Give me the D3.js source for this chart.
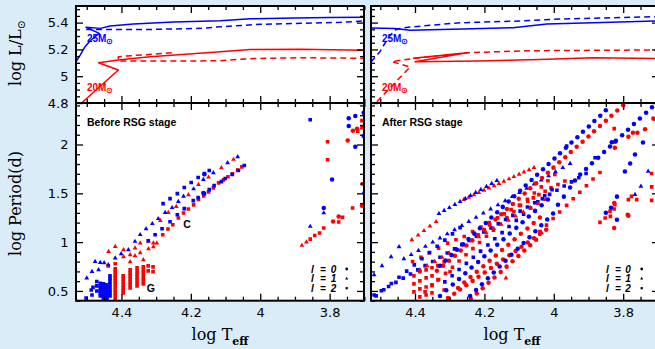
<!DOCTYPE html>
<html>
<head>
<meta charset="utf-8">
<script src="https://cdn.jsdelivr.net/npm/d3@7/dist/d3.min.js"></script>
<style>
html,body{margin:0;padding:0;background:#d9ecf7;}
svg{display:block;}
</style>
</head>
<body>
<svg id="chart" width="655" height="349"></svg>
<script>
// ---------------- tick labels ----------------
const xTicks=[4.4,4.2,4.0,3.8];
const xTickLabels=["4.4","4.2","4","3.8"];
const lumTicks=[4.8,5.0,5.2,5.4];
const lumTickLabels=["4.8","5","5.2","5.4"];
const perTicks=[0.5,1.0,1.5,2.0];
const perTickLabels=["0.5","1","1.5","2"];
const legendDegrees=["0","1","2"];

// ---------------- evolutionary tracks [logTeff, logL] ----------------
const trackBefore25Solid=[[4.531,5.108],[4.519,5.158],[4.505,5.220],[4.490,5.265],[4.471,5.307],[4.464,5.320],[4.502,5.365],[4.461,5.357],[4.433,5.375],[4.366,5.390],[4.250,5.404],[4.115,5.414],[4.030,5.428],[3.900,5.435],[3.800,5.438],[3.703,5.440]];
const trackBefore25Dashed=[[4.502,5.349],[4.317,5.349],[4.173,5.357],[4.115,5.369],[4.000,5.387],[3.885,5.395],[3.769,5.402],[3.703,5.412]];
const trackBefore20Solid=[[4.515,4.800],[4.409,5.046],[4.466,5.101],[4.409,5.121],[4.317,5.146],[4.115,5.183],[4.029,5.199],[3.885,5.201],[3.703,5.193]];
const trackBefore20Dashed=[[4.255,5.175],[4.409,5.146],[4.409,5.113],[4.200,5.113],[4.115,5.116],[4.029,5.131],[3.885,5.138],[3.703,5.134]];
const trackAfter25Solid=[[4.527,5.360],[4.458,5.356],[4.414,5.343],[4.262,5.352],[4.118,5.362],[4.020,5.390],[3.887,5.399],[3.708,5.412]];
const trackAfter25Dashed=[[4.527,5.106],[4.501,5.183],[4.478,5.285],[4.458,5.345],[4.443,5.356],[4.414,5.367],[4.270,5.399],[4.097,5.412],[3.982,5.427],[3.708,5.444]];
const trackAfter20Solid=[[4.406,5.134],[4.250,5.175],[4.400,5.108],[4.221,5.113],[4.040,5.125],[3.887,5.138],[3.708,5.133]];
const trackAfter20Dashed=[[4.510,4.810],[4.414,5.069],[4.467,5.109],[4.406,5.132],[4.250,5.175],[4.077,5.190],[3.708,5.196]];

// ---------------- periods [logTeff, logP] ----------------
const before25L0=[[4.161,1.695],[4.164,1.504],[3.745,2.268],[3.726,2.291],[3.745,2.189],[3.726,1.977],[3.702,2.326],[3.702,2.086],[3.793,1.641],[3.817,1.350],[3.700,1.504]];
const before25L1=[[4.500,0.631],[4.485,0.699],[4.476,0.801],[4.466,0.716],[4.461,0.791],[4.450,0.788],[4.438,0.767],[4.418,0.836],[4.401,0.880],[4.380,0.921],[4.361,1.007],[4.346,1.076],[4.329,1.137],[4.311,1.189],[4.294,1.240],[4.274,1.302],[4.254,1.353],[4.236,1.415],[4.221,1.469],[4.192,1.545],[4.164,1.641],[4.135,1.710],[4.094,1.813],[4.065,1.874],[3.856,1.161],[3.817,1.299]];
const before25L2=[[4.280,1.394],[4.260,1.446],[4.239,1.497],[4.219,1.559],[4.199,1.610],[4.179,1.662],[4.161,1.703],[4.147,1.733],
 [4.323,1.014],[4.303,1.076],[4.283,1.137],[4.260,1.209],[4.239,1.281],[4.219,1.343],[4.193,1.425],[4.179,1.456],[4.161,1.497],[4.147,1.538],[4.133,1.579],[4.112,1.620],[4.101,1.651],[4.081,1.692],[4.063,1.733],[4.046,1.785],
 [4.502,0.428],[4.487,0.510],[4.485,0.459],[4.471,0.596],[4.461,0.552],[4.461,0.500],[4.461,0.449],[4.452,0.572],[4.452,0.521],[4.452,0.469],[4.452,0.418],[4.442,0.562],[4.442,0.510],[4.442,0.459],[4.442,0.408],[4.433,0.654],[4.433,0.603],[4.433,0.541],[4.433,0.480],
 [4.461,0.577],[4.461,0.526],[4.461,0.475],[4.452,0.547],[4.452,0.495],[4.452,0.444],[4.442,0.536],[4.442,0.485],[4.442,0.433],[4.433,0.629],[4.433,0.572],[4.433,0.510],[4.433,0.449],[4.471,0.552],[4.471,0.500],[4.482,0.536],
 [3.856,2.254]];
const before20L0=[[3.774,1.263],[3.790,1.212],[3.707,1.373],[3.748,2.042],[3.721,2.162],[3.733,2.141]];
const before20L1=[[4.207,1.484],[4.178,1.590],[4.149,1.665],[4.112,1.761],[4.077,1.847],[4.288,1.220],[4.265,1.302],[4.242,1.364],[4.437,0.904],[4.418,0.955],[4.394,0.921],[4.375,0.870],[4.361,0.939],[4.346,0.990],[4.322,1.007],[4.308,0.990],[4.298,0.990],[4.361,0.860],[4.346,0.891],[4.322,0.932],[4.308,0.952],[4.375,0.798],[4.394,0.850],[4.337,0.819],[3.880,0.966],[3.867,1.001]];
const before20L2=[[4.281,1.076],[4.266,1.134],[4.252,1.178],[4.236,1.247],[4.221,1.299],[4.207,1.340],[4.192,1.381],[4.178,1.436],[4.163,1.474],[4.149,1.515],[4.135,1.556],[4.120,1.607],[4.106,1.638],[4.093,1.669],[4.080,1.700],[4.065,1.737],[4.053,1.771],
 [4.418,0.418],[4.418,0.449],[4.418,0.480],[4.418,0.510],[4.418,0.541],[4.418,0.572],[4.418,0.603],[4.418,0.634],[4.418,0.665],[4.418,0.696],[4.418,0.726],[4.418,0.778],
 [4.395,0.480],[4.395,0.505],[4.395,0.531],[4.395,0.562],[4.395,0.593],[4.395,0.624],[4.395,0.654],
 [4.375,0.531],[4.375,0.562],[4.375,0.593],[4.375,0.624],[4.375,0.654],[4.375,0.685],[4.375,0.716],
 [4.355,0.552],[4.355,0.582],[4.355,0.613],[4.355,0.644],[4.355,0.675],[4.355,0.706],[4.355,0.737],
 [4.337,0.572],[4.337,0.598],[4.337,0.624],[4.337,0.654],[4.337,0.685],[4.337,0.716],[4.337,0.747],
 [4.323,0.757],[4.323,0.706],[4.309,0.747],[4.309,0.696],[4.438,0.757],
 [3.806,2.028],[3.806,1.843],[3.707,2.244],[3.707,2.172],[3.719,2.137],[3.705,1.597],[3.734,1.350],[3.774,1.206],[3.763,1.253],[3.817,1.144],[3.829,1.093],[3.843,1.068],[3.856,1.031]];

const after25L0=[[4.328,0.757],[4.312,0.812],[4.295,0.867],[4.279,0.922],[4.262,0.977],[4.246,1.032],[4.229,1.087],[4.213,1.142],[4.196,1.196],[4.180,1.251],[4.163,1.306],[4.147,1.361],[4.130,1.416],[4.114,1.471],[4.097,1.526],[4.081,1.581],[4.064,1.636],[4.048,1.691],[4.031,1.746],[4.015,1.801],[3.998,1.856],[3.982,1.911],[3.965,1.966],[3.949,2.020],[3.932,2.075],[3.916,2.130],[3.899,2.185],[3.883,2.240],[3.866,2.295],[3.850,2.350],
 [4.241,0.449],[4.224,0.509],[4.207,0.569],[4.190,0.630],[4.173,0.690],[4.156,0.750],[4.139,0.810],[4.122,0.870],[4.104,0.931],[4.087,0.991],[4.070,1.051],[4.053,1.111],[4.036,1.172],[4.019,1.232],[4.002,1.292],
 [3.988,1.384],[3.971,1.466],[3.953,1.559],[3.939,1.631],
 [3.924,1.692],[3.907,1.749],[3.890,1.807],[3.872,1.864],[3.855,1.922],[3.838,1.979],[3.821,2.037],[3.803,2.094],[3.786,2.151],[3.769,2.209],[3.752,2.266],[3.734,2.324],[3.717,2.381],
 [4.328,0.449],[4.310,0.507],[4.291,0.565],[4.273,0.623],[4.255,0.681],[4.237,0.739],[4.218,0.797],[4.200,0.856],[4.182,0.914],[4.163,0.972],[4.145,1.030],[4.127,1.088],[4.108,1.146],[4.090,1.204],[4.072,1.262],[4.054,1.320],[4.035,1.378],[4.017,1.436],
 [3.795,1.723],[3.780,1.805],[3.766,1.898],[3.743,2.021],[3.818,1.466],[3.850,1.302],[3.835,1.353],[3.818,1.230],[3.833,2.024]];
const after25L1=[[4.518,0.665],[4.495,0.757],[4.469,0.850],[4.446,0.952],
 [4.331,1.292],[4.316,1.323],[4.301,1.353],[4.285,1.384],[4.270,1.415],[4.255,1.446],[4.240,1.477],[4.225,1.507],[4.210,1.538],[4.194,1.569],[4.179,1.600],[4.164,1.631],
 [4.432,0.829],[4.411,0.871],[4.390,0.914],[4.370,0.956],[4.349,0.999],[4.328,1.041],[4.307,1.084],[4.286,1.126],[4.265,1.168],[4.245,1.211],[4.224,1.253],[4.203,1.296],[4.182,1.338],[4.161,1.381],[4.140,1.423],[4.120,1.465],[4.099,1.508],[4.078,1.550],[4.057,1.593],[4.036,1.635],[4.015,1.678],[3.995,1.720],[3.974,1.762],[3.953,1.805],
 [3.749,1.572],[3.728,1.726],[3.766,1.487]];
const after25L2=[[4.518,0.459],[4.497,0.502],[4.476,0.545],[4.455,0.588],[4.434,0.631],[4.413,0.674],[4.392,0.716],[4.371,0.759],[4.349,0.802],[4.328,0.845],[4.307,0.888],[4.286,0.931],[4.265,0.974],[4.244,1.017],[4.223,1.060],[4.202,1.103],[4.181,1.146],[4.160,1.189],[4.139,1.231],[4.118,1.274],[4.097,1.317],[4.076,1.360],[4.055,1.403],[4.033,1.446],[4.012,1.489],[3.991,1.532],[3.970,1.575],[3.949,1.617],[3.928,1.660],[3.907,1.703],
 [4.512,0.449],[4.490,0.512],[4.468,0.576],[4.446,0.640],[4.424,0.703],[4.402,0.767],[4.380,0.830],[4.358,0.894],[4.336,0.957],[4.314,1.021],[4.292,1.084],[4.270,1.148],
 [4.314,0.593],[4.293,0.656],[4.273,0.719],[4.252,0.782],[4.232,0.845],[4.211,0.908],[4.190,0.971],[4.170,1.034],[4.149,1.097],[4.129,1.160],[4.108,1.223],[4.087,1.286],[4.067,1.349],[4.046,1.412],[4.026,1.475],[4.005,1.538],
 [3.963,1.983],[3.881,1.864]];
const after20L0=[[4.337,0.706],[4.319,0.757],[4.302,0.808],
 [4.285,0.860],[4.268,0.913],[4.252,0.966],[4.235,1.019],[4.218,1.073],[4.201,1.126],[4.185,1.179],[4.168,1.232],[4.151,1.285],[4.135,1.338],[4.118,1.391],[4.101,1.445],[4.084,1.498],[4.068,1.551],[4.051,1.604],[4.034,1.657],[4.017,1.710],[4.001,1.763],[3.984,1.817],[3.967,1.870],[3.951,1.923],[3.934,1.976],[3.917,2.029],[3.900,2.082],[3.884,2.135],[3.867,2.189],[3.850,2.242],[3.834,2.295],[3.817,2.348],[3.800,2.401],
 [4.305,0.428],[4.287,0.472],[4.270,0.515],[4.252,0.559],[4.234,0.603],[4.217,0.646],[4.199,0.690],[4.181,0.734],[4.164,0.778],[4.146,0.821],[4.128,0.865],[4.110,0.909],[4.093,0.952],[4.075,0.996],[4.057,1.040],[4.040,1.084],[4.022,1.127],
 [4.239,0.418],[4.222,0.473],[4.205,0.528],[4.188,0.583],[4.171,0.638],[4.153,0.694],[4.136,0.749],[4.119,0.804],[4.102,0.859],[4.085,0.914],[4.068,0.969],[4.051,1.024],
 [4.276,0.531],[4.258,0.586],[4.240,0.642],[4.222,0.697],[4.203,0.753],[4.185,0.808],[4.167,0.863],[4.149,0.919],[4.131,0.974],[4.113,1.030],[4.095,1.085],[4.076,1.140],[4.058,1.196],[4.040,1.251],
 [3.826,1.401],[3.826,1.144],[3.787,1.281],[3.824,1.967],[3.785,2.080],[3.772,2.121],[3.759,2.121],[3.737,2.155],[3.713,2.265],[3.785,1.271]];
const after20L1=[[4.409,1.024],[4.391,1.071],[4.374,1.117],[4.357,1.163],[4.339,1.209],
 [4.259,1.436],[4.245,1.459],[4.230,1.483],[4.216,1.506],[4.201,1.530],[4.187,1.553],[4.172,1.577],[4.158,1.600],[4.144,1.623],[4.129,1.647],[4.115,1.670],[4.100,1.694],[4.086,1.717],[4.071,1.741],[4.057,1.764],
 [4.386,0.716],[4.365,0.758],[4.343,0.801],[4.322,0.843],[4.301,0.885],[4.280,0.928],[4.258,0.970],[4.237,1.012],[4.216,1.055],[4.195,1.097],[4.173,1.139],[4.152,1.182],[4.131,1.224],[4.110,1.266],[4.088,1.309],[4.067,1.351],[4.046,1.394],[4.025,1.436],
 [4.035,1.096],[4.138,0.631]];
const after20L2=[[4.407,0.801],[4.383,0.844],[4.359,0.888],[4.332,0.939],[4.306,0.990],[4.282,1.024],[4.258,1.058],[4.234,1.107],[4.210,1.155],[4.186,1.201],[4.162,1.248],[4.143,1.289],[4.123,1.333],[4.099,1.376],[4.075,1.418],[4.059,1.453],[4.043,1.487],[4.025,1.521],[4.008,1.556],[3.988,1.590],[3.968,1.626],
 [4.040,1.107],[4.021,1.174],[4.002,1.242],[3.983,1.309],[3.963,1.376],[3.944,1.444],[3.925,1.511],[3.906,1.578],[3.887,1.646],[3.867,1.713],
 [4.371,0.490],[4.351,0.553],[4.332,0.617],[4.312,0.680],[4.292,0.743],[4.273,0.806],[4.253,0.870],[4.233,0.933],[4.214,0.996],[4.194,1.060],[4.174,1.123],[4.155,1.186],[4.135,1.249],[4.115,1.313],[4.096,1.376],[4.076,1.439],[4.056,1.503],[4.036,1.566],[4.017,1.629],[3.997,1.692],
 [4.403,0.654],[4.403,0.572],[4.403,0.490],[4.386,0.696],[4.386,0.603],[4.386,0.521],[4.386,0.439],[4.368,0.716],[4.368,0.634],[4.368,0.541],[4.368,0.459],[4.351,0.737],[4.351,0.654],[4.351,0.562],[4.351,0.480],[4.334,0.757],[4.334,0.613],[4.316,0.798],[4.316,0.510],[4.299,0.696],
 [3.826,2.162],[3.824,2.024],[3.718,1.703],[3.718,1.566],[3.785,1.435],[3.761,1.435],[3.776,1.469],[3.824,1.384],[3.826,1.340],[3.838,1.315],[3.852,1.247],[3.867,1.202],[3.718,1.428],[3.837,1.264]];

// ---------------- drawing ----------------
const W=655,H=349;
const BG="#d9ecf7", BLUE="#0000ff", RED="#ff0000";
const TOP0=6, MID=103, BOT1=300.7;
const svg=d3.select("#chart");
svg.append("rect").attr("width",W).attr("height",H).attr("fill",BG);

const yTop=d3.scaleLinear().domain([4.8,5.524]).range([MID,TOP0]);
const yBot=d3.scaleLinear().domain([0.4,2.425]).range([BOT1,MID]);

const sym={
  circ:d3.symbol().type(d3.symbolCircle).size(16),
  tri:d3.symbol().type(d3.symbolTriangle).size(10),
  sq:d3.symbol().type(d3.symbolSquare).size(13)
};
const legSym={
  circ:d3.symbol().type(d3.symbolCircle).size(6),
  tri:d3.symbol().type(d3.symbolTriangle).size(4),
  sq:d3.symbol().type(d3.symbolSquare).size(5)
};

const panels=[
 {x0:76,x1:364,dom:[4.531,3.701],label:"Before RSG stage",yLabels:true,
  tracks:[[trackBefore25Dashed,BLUE,"6,4"],[trackBefore25Solid,BLUE,null],[trackBefore20Dashed,RED,"6,4"],[trackBefore20Solid,RED,null]],
  pts:[[before20L2,RED,"sq"],[before20L1,RED,"tri"],[before20L0,RED,"circ"],[before25L2,BLUE,"sq"],[before25L1,BLUE,"tri"],[before25L0,BLUE,"circ"]],
  leg:{l:312.5,e:323,n:333.5,s:346.7}},
 {x0:371,x1:659,dom:[4.5268,3.6968],label:"After RSG stage",yLabels:false,
  tracks:[[trackAfter25Dashed,BLUE,"6,4"],[trackAfter25Solid,BLUE,null],[trackAfter20Dashed,RED,"6,4"],[trackAfter20Solid,RED,null]],
  pts:[[after20L2,RED,"sq"],[after25L2,BLUE,"sq"],[after20L1,RED,"tri"],[after25L1,BLUE,"tri"],[after20L0,RED,"circ"],[after25L0,BLUE,"circ"]],
  leg:{l:607.5,e:618,n:628,s:641.7}}
];

const xMinor=d3.range(74,91).map(k=>k/20).filter(v=>!xTicks.some(t=>Math.abs(t-v)<1e-6));
const lMinor=d3.range(96,111).map(k=>k/20).filter(v=>!lumTicks.some(t=>Math.abs(t-v)<1e-6));
const pMinor=d3.range(4,25).map(k=>k/10).filter(v=>!perTicks.some(t=>Math.abs(t-v)<1e-6));

function axisG(gen, tr, vals, size, fmt, pad){
  const g=svg.append("g").attr("transform",tr)
    .call(gen.tickValues(vals).tickSize(size).tickPadding(pad||3).tickFormat(fmt||(()=>"")));
  g.select(".domain").remove();
  g.attr("font-family","DejaVu Sans").attr("font-size",13);
  g.selectAll(".tick line").attr("stroke","#000").attr("stroke-width",1.3);
  g.selectAll(".tick text").attr("fill","#000");
  return g;
}

panels.forEach((p,i)=>{
  const x=d3.scaleLinear().domain(p.dom).range([p.x0,p.x1]);
  const w=p.x1-p.x0;
  svg.append("rect").attr("x",p.x0).attr("y",TOP0).attr("width",w).attr("height",MID-TOP0).attr("fill","#fff");
  svg.append("rect").attr("x",p.x0).attr("y",MID).attr("width",w).attr("height",BOT1-MID).attr("fill","#fff");
  const defs=svg.append("defs");
  defs.append("clipPath").attr("id","ct"+i).append("rect").attr("x",p.x0).attr("y",TOP0).attr("width",w).attr("height",MID-TOP0);
  defs.append("clipPath").attr("id","cb"+i).append("rect").attr("x",p.x0).attr("y",MID).attr("width",w).attr("height",BOT1-MID);

  const gt=svg.append("g").attr("clip-path",`url(#ct${i})`);
  const line=d3.line().x(d=>x(d[0])).y(d=>yTop(d[1]));
  p.tracks.forEach(([data,col,dash])=>{
    gt.append("path").attr("d",line(data)).attr("fill","none").attr("stroke",col)
      .attr("stroke-width",1.5).attr("stroke-dasharray",dash).attr("stroke-linejoin","round");
  });

  const gb=svg.append("g").attr("clip-path",`url(#cb${i})`);
  p.pts.forEach(([data,col,kind])=>{
    gb.append("g").selectAll("path").data(data).join("path")
      .attr("transform",d=>`translate(${x(d[0])},${yBot(d[1])})`)
      .attr("d",sym[kind]()).attr("fill",col);
  });

  axisG(d3.axisBottom(x),`translate(0,${MID})`,xMinor,-4);
  axisG(d3.axisBottom(x),`translate(0,${MID})`,xTicks,-7);
  axisG(d3.axisTop(x),`translate(0,${TOP0})`,xMinor,-4);
  axisG(d3.axisTop(x),`translate(0,${TOP0})`,xTicks,-7);
  axisG(d3.axisLeft(yTop),`translate(${p.x0},0)`,lMinor,-4);
  axisG(d3.axisLeft(yTop),`translate(${p.x0},0)`,lumTicks,-7,p.yLabels?((d,k)=>lumTickLabels[k]):null,7.5);
  axisG(d3.axisRight(yTop),`translate(${p.x1},0)`,lMinor,-4);
  axisG(d3.axisRight(yTop),`translate(${p.x1},0)`,lumTicks,-7);
  axisG(d3.axisBottom(x),`translate(0,${BOT1})`,xMinor,-4);
  axisG(d3.axisBottom(x),`translate(0,${BOT1})`,xTicks,-7,(d,k)=>xTickLabels[k],7.5);
  axisG(d3.axisTop(x),`translate(0,${MID})`,xMinor,-4);
  axisG(d3.axisTop(x),`translate(0,${MID})`,xTicks,-7);
  axisG(d3.axisLeft(yBot),`translate(${p.x0},0)`,pMinor,-4);
  axisG(d3.axisLeft(yBot),`translate(${p.x0},0)`,perTicks,-7,p.yLabels?((d,k)=>perTickLabels[k]):null,7.5);
  axisG(d3.axisRight(yBot),`translate(${p.x1},0)`,pMinor,-4);
  axisG(d3.axisRight(yBot),`translate(${p.x1},0)`,perTicks,-7);

  [[TOP0,MID],[MID,BOT1]].forEach(([a,b])=>{
    svg.append("rect").attr("x",p.x0).attr("y",a).attr("width",w).attr("height",b-a)
      .attr("fill","none").attr("stroke","#000").attr("stroke-width",2);
  });

  const ml=(txt,col,y)=>{
    const t=svg.append("text").attr("x",p.x0+11).attr("y",y).attr("fill",col)
      .attr("font-family","Liberation Sans").attr("font-weight","bold").attr("font-size",10).text(txt);
    t.append("tspan").attr("font-size",8).attr("dy",2).text("\u2299");
  };
  ml("25M",BLUE,41.5);
  ml("20M",RED,90.5);

  svg.append("text").attr("x",p.x0+11).attr("y",126).attr("font-family","Liberation Sans")
    .attr("font-weight","bold").attr("font-size",10.5).attr("fill","#000").text(p.label);

  const kinds=["circ","tri","sq"];
  legendDegrees.forEach((lab,k)=>{
    const yb=272.5+k*9.6;
    const ts=svg.append("g").attr("font-family","Liberation Sans").attr("font-weight","bold")
      .attr("font-style","italic").attr("font-size",10).attr("fill","#000").attr("text-anchor","middle");
    ts.append("text").attr("x",p.leg.l).attr("y",yb).text("l");
    ts.append("text").attr("x",p.leg.e).attr("y",yb).text("=");
    ts.append("text").attr("x",p.leg.n).attr("y",yb).text(lab);
    svg.append("path").attr("transform",`translate(${p.leg.s},${yb-3.5})`).attr("d",legSym[kinds[k]]()).attr("fill","#000");
  });

  const xt=svg.append("text").attr("x",(p.x0+p.x1)/2 - (i===1?3:0)).attr("y",340).attr("text-anchor","middle")
    .attr("font-family","DejaVu Serif").attr("font-size",16).attr("fill","#000");
  xt.append("tspan").text("log T");
  xt.append("tspan").attr("font-size",11).attr("font-weight","bold").attr("dy",5).text("eff");
});

svg.append("text").attr("x",183.3).attr("y",228.3).attr("font-family","Liberation Sans").attr("font-weight","bold").attr("font-size",10.5).text("C");
svg.append("text").attr("x",146.7).attr("y",291.7).attr("font-family","Liberation Sans").attr("font-weight","bold").attr("font-size",10.5).text("G");

const yt1=svg.append("text").attr("transform","translate(21,53) rotate(-90)").attr("text-anchor","middle")
  .attr("font-family","DejaVu Serif").attr("font-size",16).attr("fill","#000");
yt1.append("tspan").text("log L/L");
yt1.append("tspan").attr("font-size",11).attr("dy",4).text("\u2299");
svg.append("text").attr("transform","translate(21,203.5) rotate(-90)").attr("text-anchor","middle")
  .attr("font-family","DejaVu Serif").attr("font-size",16).attr("fill","#000").text("log Period(d)");
</script>
</body>
</html>
